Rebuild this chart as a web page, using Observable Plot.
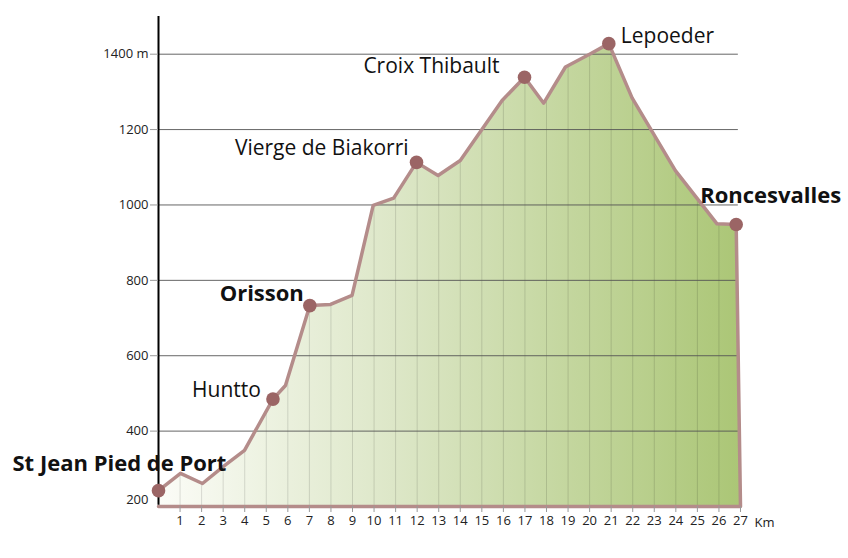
<!DOCTYPE html>
<html><head><meta charset="utf-8">
<script src="https://cdn.jsdelivr.net/npm/d3@7"></script>
<script src="https://cdn.jsdelivr.net/npm/@observablehq/plot@0.6"></script>
<style>
body{margin:0;background:#fff;}
#chart svg{font-family:"Open Sans",sans-serif;overflow:visible;}
</style>
</head><body><div id="chart"></div>
<script>
// Elevation profile (km, metres)
const km = [0, 1.02, 2.04, 3.0, 3.99, 5.31, 5.89, 7.02, 7.98, 8.98, 9.96, 10.91, 11.97, 12.97, 14.0, 15.94, 16.98, 17.87, 18.88, 20.04, 20.89, 21.97, 23.98, 25.91, 26.8, 27];
const elevation = [242, 288, 261, 306, 349, 485, 521, 733, 736, 760, 999, 1018, 1113, 1078, 1118, 1277, 1339, 1270, 1366, 1401, 1428, 1284, 1091, 950, 948, 200];

// Named places
const placeNames = ["St Jean Pied de Port", "Huntto", "Orisson", "Vierge de Biakorri", "Croix Thibault", "Lepoeder", "Roncesvalles"];
const placeKm = [0, 5.31, 7.02, 11.97, 16.98, 20.89, 26.8];
const placeElev = [242, 485, 733, 1113, 1339, 1428, 948];

// Axis ticks
const yTicks = [400, 600, 800, 1000, 1200, 1400];
const xTicks = [1,2,3,4,5,6,7,8,9,10,11,12,13,14,15,16,17,18,19,20,21,22,23,24,25,26,27];
const xUnit = "Km";
const baseElev = 200;
const topElev = 1500;

const profile = km.map((k, i) => ({km: k, elev: elevation[i]}));
const outline = profile.concat([{km: 0, elev: baseElev}]);
const places = placeNames.map((n, i) => ({name: n, km: placeKm[i], elev: placeElev[i]}));

const gradientDefs = () => {
  const defs = d3.create("svg:defs");
  const g = defs.append("linearGradient").attr("id", "profileGrad")
    .attr("x1", "0").attr("x2", "1").attr("y1", "0").attr("y2", "0");
  g.append("stop").attr("offset", "0%").attr("stop-color", "#fbfcf7");
  g.append("stop").attr("offset", "40%").attr("stop-color", "#dde7c8");
  g.append("stop").attr("offset", "100%").attr("stop-color", "#abc676");
  return defs.node();
};

const label = (i, anchor, dx, dy, bold) => Plot.text([places[i]], {
  x: "km", y: "elev", text: "name", textAnchor: anchor, dx, dy,
  fontSize: bold ? 22 : 21, fontWeight: bold ? "bold" : "normal", fill: "#111"
});

const chart = Plot.plot({
  width: 848,
  height: 558,
  marginLeft: 158,
  marginRight: 108,
  marginTop: 16,
  marginBottom: 52,
  x: {domain: [0, 27], axis: null},
  y: {domain: [baseElev, topElev], axis: null},
  style: {fontFamily: "Open Sans", background: "#fff"},
  marks: [
    gradientDefs,
    Plot.areaY(profile, {x: "km", y1: baseElev, y2: "elev", fill: "url(#profileGrad)"}),
    Plot.ruleX(xTicks.slice(0, -1), {y1: baseElev, y2: topElev, stroke: "#000", strokeOpacity: 0.13, strokeWidth: 1}),
    Plot.areaY(profile, {x: "km", y1: "elev", y2: topElev, fill: "#fff"}),
    Plot.ruleY(yTicks, {x1: 0, x2: 26.9, stroke: "#555", strokeWidth: 0.9}),
    Plot.line(outline, {x: "km", y: "elev", stroke: "#b48c8a", strokeWidth: 3.5, strokeLinejoin: "round"}),
    Plot.ruleX([0], {y1: baseElev + 3, y2: topElev, stroke: "#000", strokeWidth: 2}),
    Plot.axisY(yTicks, {label: null, tickSize: 8, tickPadding: 2, stroke: "#999", fill: "#222", fontSize: 13,
      tickFormat: d => d === 1400 ? "1400 m" : String(d)}),
    Plot.axisY([baseElev], {label: null, tickSize: 0, tickPadding: 10, dy: -7, fill: "#222", fontSize: 13, tickFormat: d => String(d)}),
    Plot.axisX(xTicks, {label: null, tickSize: 6, tickPadding: 3, stroke: "#999", fill: "#222", fontSize: 13, tickFormat: d => String(d)}),
    Plot.text([xUnit], {x: 27, y: baseElev, text: d => d, dx: 14, dy: 16, textAnchor: "start", fontSize: 13, fill: "#222"}),
    Plot.dot(places, {x: "km", y: "elev", r: 6.8, fill: "#9b6565", stroke: "none"}),
    label(0, "start", -146, -27, true),
    label(1, "end", -12, -9, false),
    label(2, "end", -6, -12, true),
    label(3, "end", -8, -14, false),
    label(4, "end", -25, -11, false),
    label(5, "start", 12, -7, false),
    label(6, "start", -36, -29, true)
  ]
});
document.getElementById("chart").appendChild(chart);
</script>
</body></html>
